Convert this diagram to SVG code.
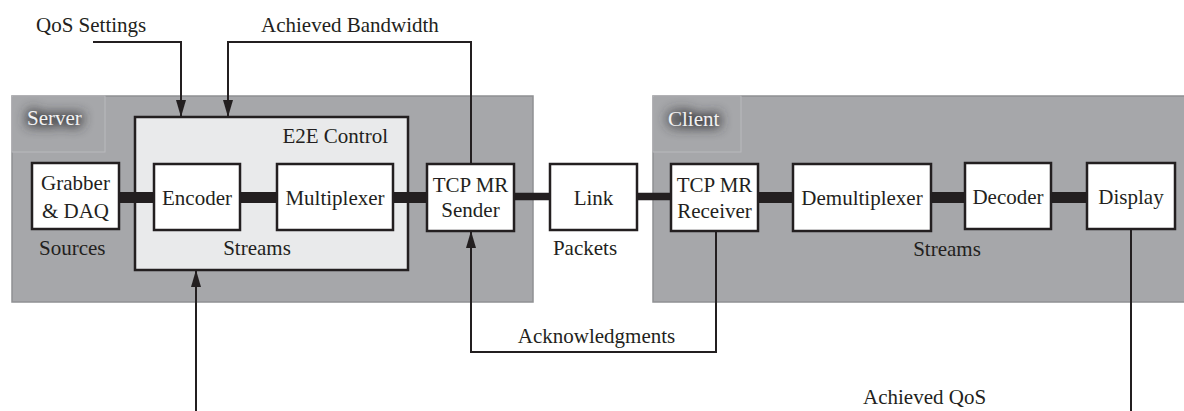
<svg xmlns="http://www.w3.org/2000/svg" width="1184" height="411" viewBox="0 0 1184 411">
  <style>
    text { font-family: "Liberation Serif", "Times New Roman", serif; font-size: 21px; fill: #231f20; }
    .mid { text-anchor: middle; }
    .panel { fill: #a6a7aa; stroke: #8f9093; stroke-width: 1.5; }
    .tab { fill: none; stroke: #b9babd; stroke-width: 1; }
    .tabtext { fill: #f2f2f2; }
    .glow { fill: #2e2e30; stroke: #2e2e30; stroke-width: 4; filter: url(#soft); opacity: 0.85; }
    .box { fill: #ffffff; stroke: #231f20; stroke-width: 2.5; }
    .ctrl { fill: #e9eaeb; stroke: #231f20; stroke-width: 2.5; }
    .bus { stroke: #231f20; stroke-width: 11; fill: none; }
    .pkt { stroke: #231f20; stroke-width: 7.5; fill: none; }
    .sig { stroke: #231f20; stroke-width: 2; fill: none; }
    .arrow { marker-end: url(#head); }
  </style>
  <defs>
    <marker id="head" markerUnits="userSpaceOnUse" markerWidth="17" markerHeight="10" refX="17" refY="5" orient="auto">
      <path d="M0,0 L17,5 L0,10 z" fill="#231f20"/>
    </marker>
    <filter id="soft" x="-50%" y="-100%" width="200%" height="300%">
      <feGaussianBlur stdDeviation="6"/>
    </filter>
  </defs>

  <!-- Server panel -->
  <g id="server">
    <rect class="panel" x="12" y="96" width="521" height="206"/>
    <rect class="tab" x="12" y="96" width="93" height="56"/>
    <text class="glow" x="27" y="125">Server</text>
    <text class="tabtext" x="27" y="125">Server</text>
  </g>

  <!-- Client panel -->
  <g id="client">
    <rect class="panel" x="653" y="96" width="540" height="206"/>
    <rect class="tab" x="653" y="96" width="88" height="56"/>
    <text class="glow" x="668" y="126">Client</text>
    <text class="tabtext" x="668" y="126">Client</text>
  </g>

  <!-- E2E control block -->
  <g id="e2e">
    <rect class="ctrl" x="135" y="117" width="273" height="153"/>
    <text x="388" y="143" text-anchor="end">E2E Control</text>
    <text class="mid" x="257" y="255">Streams</text>
  </g>

  <!-- Connectors -->
  <g id="connectors">
    <line class="bus" x1="119" y1="197.5" x2="154" y2="197.5"/>
    <line class="bus" x1="240" y1="197.5" x2="277" y2="197.5"/>
    <line class="bus" x1="393" y1="197.5" x2="427" y2="197.5"/>
    <line class="pkt" x1="514" y1="196.5" x2="550" y2="196.5"/>
    <line class="pkt" x1="637" y1="196.5" x2="671" y2="196.5"/>
    <line class="bus" x1="758" y1="197.5" x2="793" y2="197.5"/>
    <line class="bus" x1="931" y1="197.5" x2="965" y2="197.5"/>
    <line class="bus" x1="1051" y1="197.5" x2="1087" y2="197.5"/>

    <polyline class="sig arrow" points="93,42 181,42 181,117"/>
    <polyline class="sig arrow" points="471,164 471,42 228,42 228,117"/>
    <polyline class="sig arrow" points="196,411 196,270"/>
    <polyline class="sig arrow" points="716,231 716,352 471,352 471,231"/>
    <polyline class="sig" points="1131,229 1131,411"/>
  </g>

  <!-- Processing nodes -->
  <g id="grabber">
    <rect class="box" x="32" y="163" width="87" height="66"/>
    <text class="mid" x="75.5" y="190">Grabber</text>
    <text class="mid" x="75.5" y="218">&amp; DAQ</text>
  </g>
  <g id="encoder">
    <rect class="box" x="154" y="164" width="86" height="66"/>
    <text class="mid" x="197" y="205">Encoder</text>
  </g>
  <g id="multiplexer">
    <rect class="box" x="277" y="164" width="116" height="66"/>
    <text class="mid" x="335" y="205">Multiplexer</text>
  </g>
  <g id="sender">
    <rect class="box" x="427" y="164" width="87" height="67"/>
    <text class="mid" x="470.5" y="192">TCP MR</text>
    <text class="mid" x="470.5" y="217">Sender</text>
  </g>
  <g id="link">
    <rect class="box" x="550" y="164" width="87" height="66"/>
    <text class="mid" x="593.5" y="205">Link</text>
  </g>
  <g id="receiver">
    <rect class="box" x="671" y="164" width="87" height="67"/>
    <text class="mid" x="714.5" y="192">TCP MR</text>
    <text class="mid" x="714.5" y="218">Receiver</text>
  </g>
  <g id="demultiplexer">
    <rect class="box" x="793" y="164" width="138" height="67"/>
    <text class="mid" x="862" y="205">Demultiplexer</text>
  </g>
  <g id="decoder">
    <rect class="box" x="965" y="163" width="86" height="66"/>
    <text class="mid" x="1008" y="204">Decoder</text>
  </g>
  <g id="display">
    <rect class="box" x="1087" y="163" width="88" height="66"/>
    <text class="mid" x="1131" y="204">Display</text>
  </g>

  <!-- Labels -->
  <g id="labels">
    <text x="36" y="32">QoS Settings</text>
    <text x="261" y="32">Achieved Bandwidth</text>
    <text x="39" y="255">Sources</text>
    <text class="mid" x="585" y="255">Packets</text>
    <text class="mid" x="947" y="256">Streams</text>
    <text class="mid" x="596.5" y="343">Acknowledgments</text>
    <text x="863" y="404">Achieved QoS</text>
  </g>
</svg>
